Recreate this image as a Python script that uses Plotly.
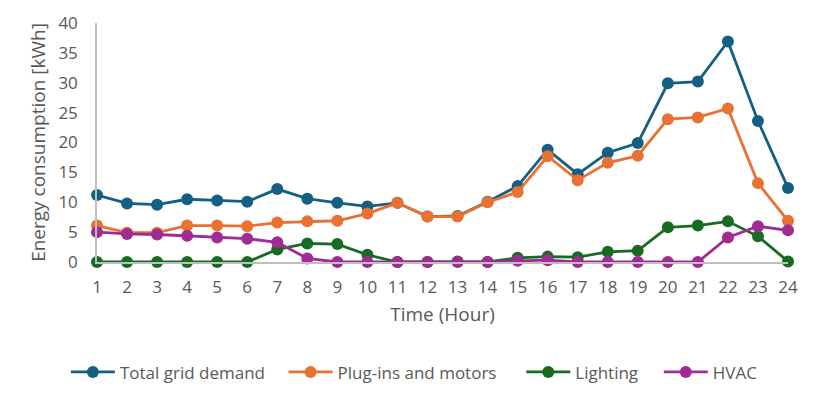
import plotly.graph_objects as go

hours = list(range(1, 25))
total_grid = [11.2, 9.8, 9.6, 10.5, 10.3, 10.1, 12.2, 10.6, 9.9, 9.3, 9.9, 7.6,
              7.7, 10.1, 12.7, 18.8, 14.7, 18.3, 19.9, 29.9, 30.2, 36.9, 23.6, 12.4]
plugins = [6.1, 4.9, 4.9, 6.1, 6.1, 6.0, 6.6, 6.8, 6.9, 8.1, 9.9, 7.6,
           7.6, 10.0, 11.7, 17.7, 13.7, 16.6, 17.8, 23.9, 24.2, 25.7, 13.2, 6.9]
lighting = [0, 0, 0, 0, 0, 0, 2.1, 3.1, 3.0, 1.2, 0, 0,
            0.1, 0, 0.7, 0.9, 0.8, 1.7, 1.9, 5.8, 6.1, 6.8, 4.3, 0.1]
hvac = [5.0, 4.7, 4.6, 4.4, 4.1, 3.9, 3.3, 0.6, 0, 0, 0, 0,
        0, 0, 0.2, 0.3, 0, 0, 0, 0, 0, 4.1, 6.0, 5.3]

series = [
    ("Total grid demand", total_grid, "#156082"),
    ("Plug-ins and motors", plugins, "#E97132"),
    ("Lighting", lighting, "#196B24"),
    ("HVAC", hvac, "#A02B93"),
]
legend_ids = ["legend", "legend2", "legend3", "legend4"]
legend_x = [-0.045, 0.27, 0.614, 0.813]

fig = go.Figure()
for (name, vals, color), lid in zip(series, legend_ids):
    fig.add_trace(go.Scatter(
        x=hours, y=vals, name=name, mode="lines+markers",
        line=dict(color=color, width=2.8),
        marker=dict(color=color, size=12),
        cliponaxis=False, legend=lid,
    ))

font_family = "Open Sans, Noto Sans, sans-serif"
grey = "#595959"

legend_common = dict(orientation="h", xanchor="left", y=-0.462, yanchor="middle",
                     font=dict(size=17, color=grey), itemwidth=44,
                     bgcolor="rgba(0,0,0,0)", borderwidth=0)

layout_legends = {}
for lid, lx in zip(legend_ids, legend_x):
    layout_legends[lid] = dict(legend_common, x=lx)

fig.update_layout(
    width=814, height=395,
    margin=dict(l=89, r=34, t=15, b=141, autoexpand=False),
    paper_bgcolor="white", plot_bgcolor="white",
    font=dict(family=font_family, size=17, color=grey),
    showlegend=True,
    xaxis=dict(
        range=[1, 24], tickmode="array", tickvals=hours, ticktext=[str(h) for h in hours],
        showgrid=False, zeroline=False, showline=True, linecolor="#BFBFBF", linewidth=1.5,
        ticks="", ticklabelstandoff=9, tickfont=dict(size=17, color=grey), automargin=False,
        title=dict(text="Time (Hour)", font=dict(size=19, color=grey), standoff=11),
    ),
    yaxis=dict(
        range=[0, 40], tickvals=[0, 5, 10, 15, 20, 25, 30, 35, 40],
        showgrid=False, zeroline=False, showline=True, linecolor="#BFBFBF", linewidth=1.5,
        ticks="", ticklabelstandoff=14, tickfont=dict(size=17, color=grey), automargin=False,
        title=dict(text="Energy consumption [kWh]", font=dict(size=19, color=grey), standoff=8),
    ),
    **layout_legends,
)

fig.write_html("out.html")
